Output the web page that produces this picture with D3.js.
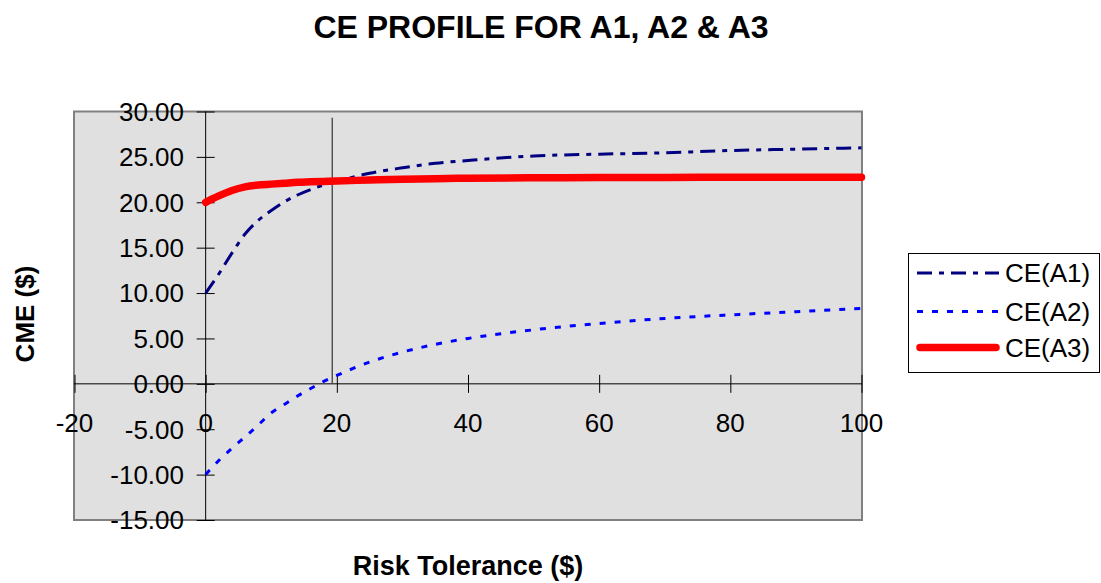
<!DOCTYPE html>
<html>
<head>
<meta charset="utf-8">
<script src="https://cdn.jsdelivr.net/npm/d3@7/dist/d3.min.js"></script>
<style>
  html, body { margin: 0; padding: 0; background: #ffffff; }
  svg { display: block; font-family: "Liberation Sans", Arial, sans-serif; }
</style>
</head>
<body>
<svg id="chart" width="1101" height="583"></svg>
<script>
// Risk tolerance values (x) and certainty equivalents for each alternative
const riskTolerance = [0, 2, 4, 6, 8, 10, 12, 14, 16, 18, 20, 25, 30, 35, 40, 50, 60, 70, 80, 90, 100];
const ceA1 = [10.0, 12.1, 14.4, 16.5, 18.0, 19.1, 20.05, 20.8, 21.4, 21.9, 22.3, 23.2, 23.8, 24.3, 24.6, 25.1, 25.3, 25.45, 25.7, 25.85, 26.0];
const ceA2 = [-10.0, -8.45, -7.1, -5.85, -4.55, -3.2, -2.27, -1.35, -0.52, 0.27, 0.93, 2.4, 3.5, 4.35, 5.0, 5.95, 6.65, 7.2, 7.6, 7.95, 8.3];
const ceA3 = [20.0, 20.7, 21.3, 21.7, 21.9, 22.0, 22.1, 22.2, 22.25, 22.3, 22.35, 22.45, 22.55, 22.6, 22.65, 22.7, 22.72, 22.74, 22.75, 22.76, 22.77];

// Crossover marker between CE(A1) and CE(A3)
const crossoverX = [19.3, 19.3];
const crossoverY = [0, 29.3];

const xTicks = [-20, 0, 20, 40, 60, 80, 100];
const yTicks = [-15, -10, -5, 0, 5, 10, 15, 20, 25, 30];
const seriesNames = ["CE(A1)", "CE(A2)", "CE(A3)"];

const svg = d3.select("#chart");
const plotLeft = 74, plotRight = 862, plotTop = 111.5, plotBottom = 520;

const x = d3.scaleLinear().domain([-20, 100]).range([plotLeft + 0.5, plotRight - 0.5]);
const y = d3.scaleLinear().domain([-15, 30]).range([plotBottom, plotTop]);

const fmt = d3.formatLocale({decimal: ".", thousands: ",", grouping: [3], currency: ["$", ""], minus: "-"}).format(".2f");

// Plot area
svg.append("rect")
  .attr("x", plotLeft).attr("y", plotTop)
  .attr("width", plotRight - plotLeft).attr("height", plotBottom - plotTop)
  .attr("fill", "#e0e0e0")
  .attr("stroke", "#808080").attr("stroke-width", 2);

const x0 = x(0), y0 = y(0);

// Crossing axes with tick marks straddling each axis line
const xAxis = d3.axisBottom(x).tickValues(xTicks).tickSize(18).tickFormat("");
svg.append("g")
  .attr("transform", `translate(0,${y0 - 9})`)
  .call(xAxis)
  .call(g => g.select(".domain").remove())
  .call(g => g.selectAll(".tick line").attr("stroke", "#000").attr("stroke-width", 1));

const yAxis = d3.axisLeft(y).tickValues(yTicks).tickSize(18).tickFormat("");
svg.append("g")
  .attr("transform", `translate(${x0 + 9},0)`)
  .call(yAxis)
  .call(g => g.select(".domain").remove())
  .call(g => g.selectAll(".tick line").attr("stroke", "#000").attr("stroke-width", 1));

svg.append("line")
  .attr("x1", plotLeft).attr("x2", plotRight)
  .attr("y1", y0).attr("y2", y0)
  .attr("stroke", "#000").attr("stroke-width", 1);
svg.append("line")
  .attr("x1", x0).attr("x2", x0)
  .attr("y1", plotTop).attr("y2", plotBottom)
  .attr("stroke", "#000").attr("stroke-width", 1);

// Tick labels
svg.append("g").selectAll("text")
  .data(xTicks).join("text")
  .attr("x", d => x(d)).attr("y", y0 + 48)
  .attr("text-anchor", "middle")
  .attr("font-size", 26).attr("fill", "#000")
  .text(d => d);

svg.append("g").selectAll("text")
  .data(yTicks).join("text")
  .attr("x", 184).attr("y", d => y(d))
  .attr("dy", "0.36em")
  .attr("text-anchor", "end")
  .attr("font-size", 26).attr("fill", "#000")
  .text(d => fmt(d));

// Crossover drop line
svg.append("line")
  .attr("x1", x(crossoverX[0])).attr("x2", x(crossoverX[1]))
  .attr("y1", y(crossoverY[0])).attr("y2", y(crossoverY[1]))
  .attr("stroke", "#404040").attr("stroke-width", 1.3);

// Series
const styles = [
  {values: ceA1, color: "#000080", width: 3, dash: "15,7,5,7", cap: "butt"},
  {values: ceA2, color: "#0000ff", width: 3, dash: "6,9", cap: "butt"},
  {values: ceA3, color: "#ff0000", width: 7.5, dash: null, cap: "round"}
];

const line = d3.line()
  .x(d => x(d[0])).y(d => y(d[1]))
  .curve(d3.curveMonotoneX);

styles.forEach(s => {
  svg.append("path")
    .datum(riskTolerance.map((r, i) => [r, s.values[i]]))
    .attr("d", line)
    .attr("fill", "none")
    .attr("stroke", s.color)
    .attr("stroke-width", s.width)
    .attr("stroke-linecap", s.cap)
    .attr("stroke-dasharray", s.dash);
});

// Legend
const legend = svg.append("g");
legend.append("rect")
  .attr("x", 908.5).attr("y", 253.5)
  .attr("width", 191).attr("height", 119)
  .attr("fill", "#fff").attr("stroke", "#000").attr("stroke-width", 1);

const rowY = [273, 311.5, 347.5];
styles.forEach((s, i) => {
  legend.append("line")
    .attr("x1", s.cap === "round" ? 920 : 917).attr("x2", s.cap === "round" ? 996 : 999)
    .attr("y1", rowY[i]).attr("y2", rowY[i])
    .attr("stroke", s.color)
    .attr("stroke-width", s.width)
    .attr("stroke-linecap", s.cap)
    .attr("stroke-dasharray", s.dash);
  legend.append("text")
    .attr("x", 1005).attr("y", rowY[i])
    .attr("dy", "0.36em")
    .attr("font-size", 26).attr("fill", "#000")
    .text(seriesNames[i]);
});

// Titles
svg.append("text")
  .attr("x", 541).attr("y", 38)
  .attr("text-anchor", "middle")
  .attr("font-size", 32).attr("font-weight", "bold")
  .text("CE PROFILE FOR A1, A2 & A3");

svg.append("text")
  .attr("x", 468).attr("y", 575)
  .attr("text-anchor", "middle")
  .attr("font-size", 27).attr("font-weight", "bold")
  .text("Risk Tolerance ($)");

svg.append("text")
  .attr("transform", "translate(34,314) rotate(-90)")
  .attr("text-anchor", "middle")
  .attr("font-size", 26).attr("font-weight", "bold")
  .text("CME ($)");
</script>
</body>
</html>
